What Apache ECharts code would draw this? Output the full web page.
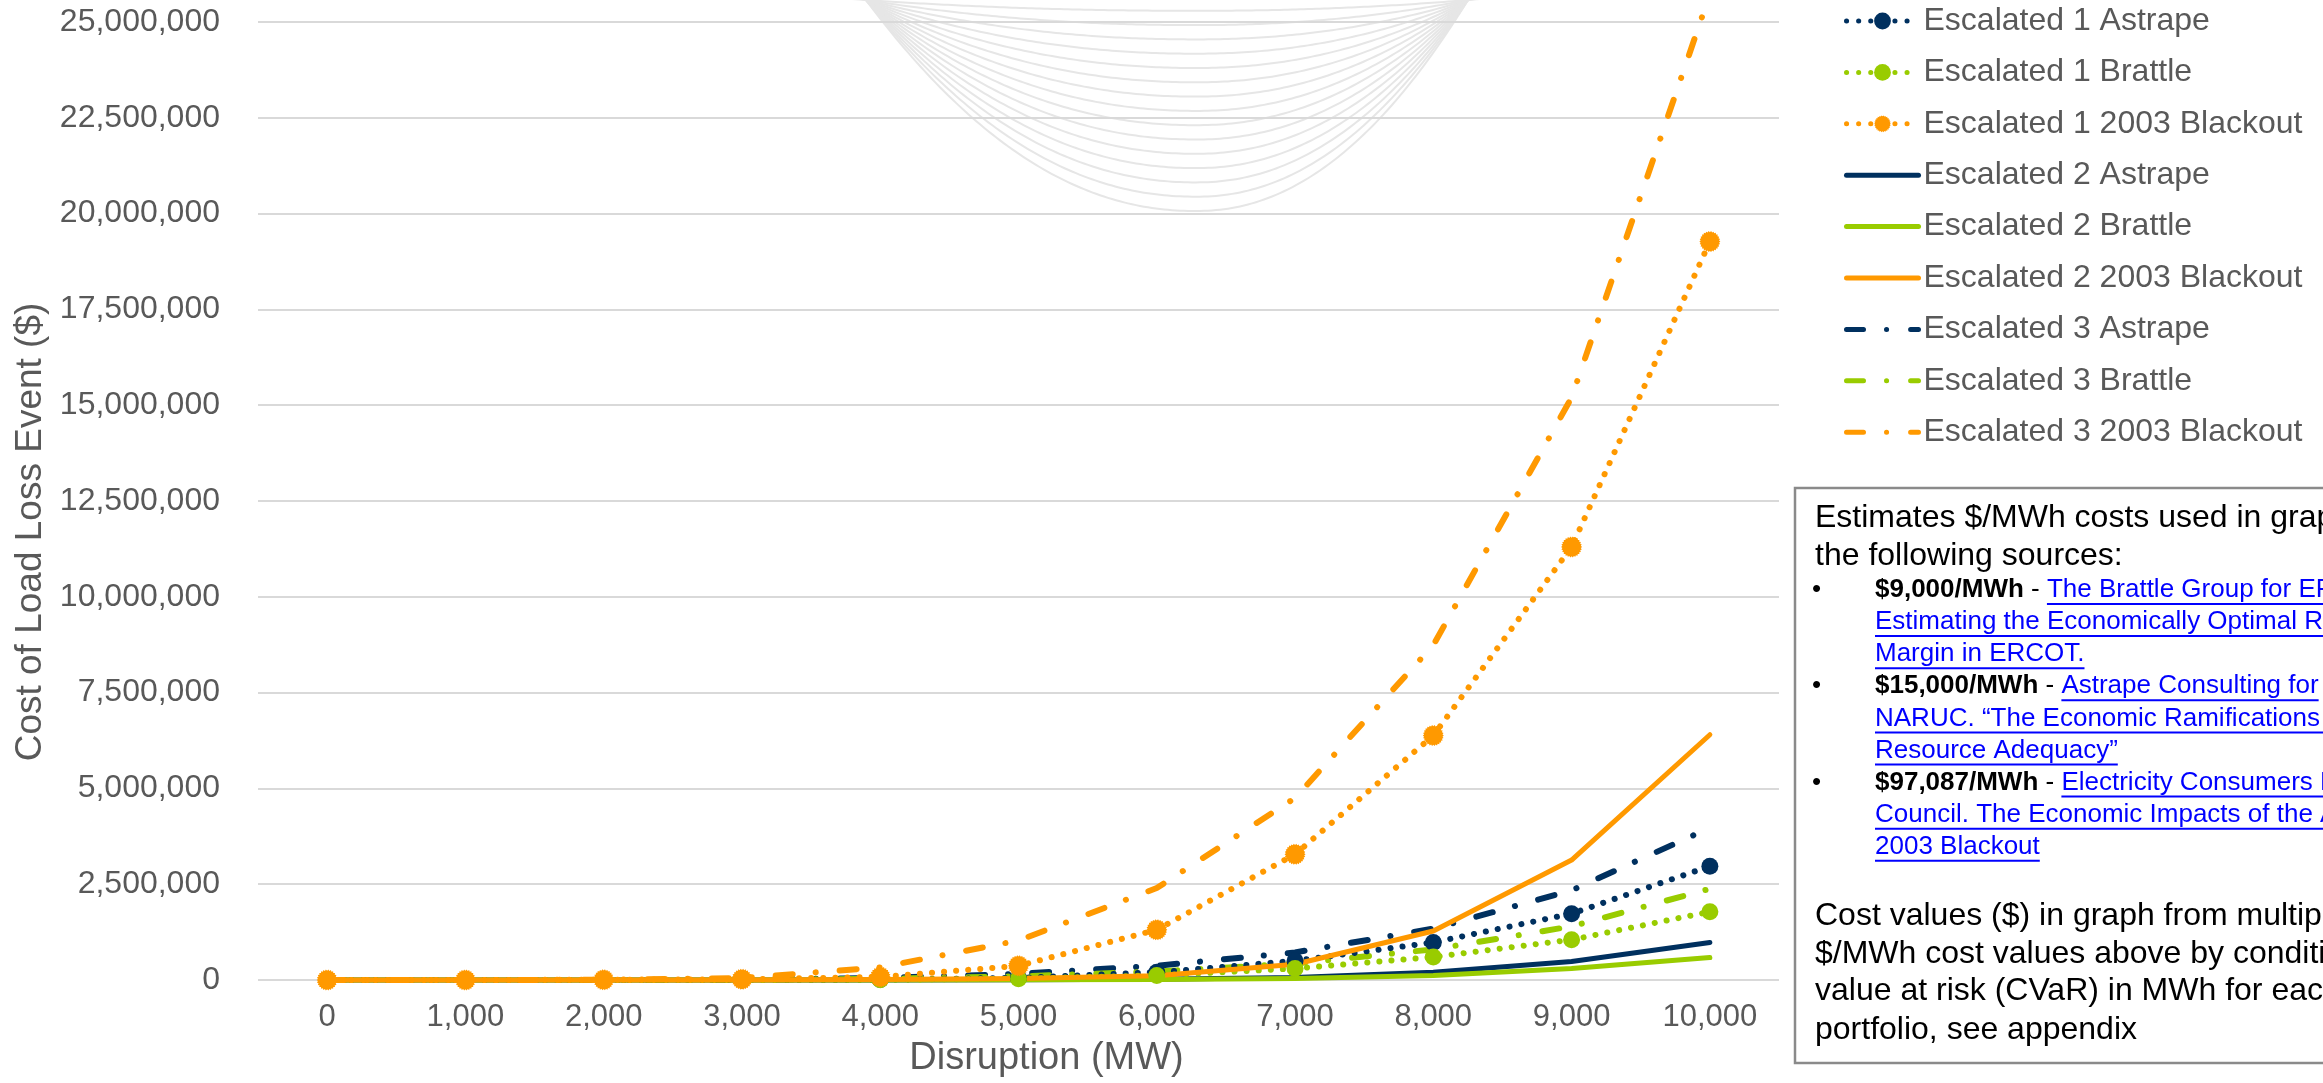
<!DOCTYPE html>
<html>
<head>
<meta charset="utf-8">
<script src="https://cdn.jsdelivr.net/npm/echarts@6/dist/echarts.min.js"></script>
<style>
html,body{margin:0;padding:0;background:#fff;}
#chart{width:2323px;height:1083px;}
</style>
</head>
<body>
<div id="chart"></div>
<script>
// ---- data ----
const categories = [0, 1000, 2000, 3000, 4000, 5000, 6000, 7000, 8000, 9000, 10000];
const seriesNames = [
  'Escalated 1 Astrape', 'Escalated 1 Brattle', 'Escalated 1 2003 Blackout',
  'Escalated 2 Astrape', 'Escalated 2 Brattle', 'Escalated 2 2003 Blackout',
  'Escalated 3 Astrape', 'Escalated 3 Brattle', 'Escalated 3 2003 Blackout'
];
const esc1Astrape  = [0, 0, 1000, 3000, 12000, 55000, 200000, 500000, 980000, 1730000, 2970000];
const esc1Brattle  = [0, 0, 600, 1800, 7000, 33000, 120000, 300000, 600000, 1050000, 1780000];
const esc1Blackout = [0, 0, 6000, 20000, 80000, 370000, 1310000, 3280000, 6380000, 11300000, 19270000];
const esc2Astrape  = [0, 0, 0, 500, 2000, 6000, 17000, 63000, 200000, 485000, 980000];
const esc2Brattle  = [0, 0, 0, 300, 1200, 3600, 10000, 38000, 120000, 300000, 585000];
const esc2Blackout = [0, 0, 0, 3000, 12000, 40000, 110000, 410000, 1280000, 3130000, 6400000];
const esc3Astrape  = [0, 0, 1000, 8000, 50000, 160000, 370000, 720000, 1340000, 2340000, 3970000];
const esc3Brattle  = [0, 0, 600, 5000, 30000, 95000, 220000, 430000, 800000, 1400000, 2380000];
const esc3Blackout = [0, 0, 6000, 50000, 330000, 1030000, 2400000, 4750000, 8740000, 15200000, 25730000];
const yMin = 0, yMax = 25000000, yInterval = 2500000;
const xAxisTitle = 'Disruption (MW)';
const yAxisTitle = 'Cost of Load Loss Event ($)';

// text box content
const introLines = ['Estimates $/MWh costs used in graph are from', 'the following sources:'];
const sources = [
  { cost: '$9,000/MWh', lines: ['The Brattle Group for ERCOT.', 'Estimating the Economically Optimal Reserve', 'Margin in ERCOT.'] },
  { cost: '$15,000/MWh', lines: ['Astrape Consulting for', 'NARUC. \u201CThe Economic Ramifications of', 'Resource Adequacy\u201D'] },
  { cost: '$97,087/MWh', lines: ['Electricity Consumers Resource', 'Council. The Economic Impacts of the August', '2003 Blackout'] }
];
const outroLines = ['Cost values ($) in graph from multiplying', '$/MWh cost values above by conditional', 'value at risk (CVaR) in MWh for each', 'portfolio, see appendix'];

// ---- styling ----
const FONT = "'Liberation Sans', Arial, sans-serif";
const NAVY = '#00305F', GREEN = '#99CC00', ORANGE = '#FF9900';
const GREY_TXT = '#595959';

function spiky(n, rOut, rIn) {
  let d = '';
  for (let i = 0; i < 2 * n; i++) {
    const a = i * Math.PI / n;
    const r = i % 2 ? rIn : rOut;
    d += (i ? 'L' : 'M') + (r * Math.cos(a)).toFixed(3) + ',' + (r * Math.sin(a)).toFixed(3);
  }
  return 'path://' + d + 'Z';
}
const SPIKY = spiky(26, 10, 8.8);

function mk(name, data, color, kind, symbol) {
  const s = {
    name, type: 'line', data, clip: false, animation: false,
    emphasis: { disabled: true }, itemStyle: { color }
  };
  if (kind === 'dot') {
    s.lineStyle = { color, width: 6, type: [0.1, 12], cap: 'round' };
    s.symbol = symbol; s.symbolSize = symbol === 'circle' ? 17 : 21; s.showSymbol = true;
  } else if (kind === 'solid') {
    s.lineStyle = { color, width: 5, cap: 'round', join: 'round' };
    s.symbol = 'none';
  } else {
    s.lineStyle = { color, width: 6, type: [17, 23, 0.1, 24], cap: 'round' };
    s.symbol = 'none';
  }
  return s;
}

const series = [
  mk(seriesNames[6], esc3Astrape, NAVY, 'dashdot'),
  mk(seriesNames[7], esc3Brattle, GREEN, 'dashdot'),
  mk(seriesNames[3], esc2Astrape, NAVY, 'solid'),
  mk(seriesNames[4], esc2Brattle, GREEN, 'solid'),
  mk(seriesNames[0], esc1Astrape, NAVY, 'dot', 'circle'),
  mk(seriesNames[1], esc1Brattle, GREEN, 'dot', 'circle'),
  mk(seriesNames[8], esc3Blackout, ORANGE, 'dashdot'),
  mk(seriesNames[5], esc2Blackout, ORANGE, 'solid'),
  mk(seriesNames[2], esc1Blackout, ORANGE, 'dot', SPIKY)
];

// legend entries: Escalated 2 / 3 have no marker in the key
const legendData = seriesNames.map((n, i) => i < 3 ? { name: n } : { name: n, itemStyle: { opacity: 0 } });

// ---- decorative background swooshes (template watermark) ----
const deco = [];
for (let k = 0; k < 15; k++) {
  const yb = 211 - 14.3 * k;
  const pts = [];
  for (let x = 820; x <= 1500; x += 4) {
    const dx = x - 1196;
    const W = dx < 0 ? 330 : 272;
    const u = Math.abs(dx) / W;
    pts.push([x, yb * (1 - Math.pow(u, 2.1))]);
  }
  deco.push({ type: 'polyline', silent: true, z: -5, shape: { points: pts }, style: { stroke: '#e6e6e6', lineWidth: 2, fill: null } });
}

// ---- text box ----
const ctx = document.createElement('canvas').getContext('2d');
function tw(text, size, weight) { ctx.font = (weight || 'normal') + ' ' + size + 'px ' + FONT; return ctx.measureText(text).width; }
const box = [];
const BX = 1795, BY = 488;
box.push({ type: 'rect', z: 50, shape: { x: BX, y: BY, width: 700, height: 575 }, style: { fill: '#fff', stroke: '#8a8a8a', lineWidth: 2.5 } });
const introY = [518, 556];
introLines.forEach((t, i) => box.push({ type: 'text', z: 51, x: 1815, y: introY[i], style: { text: t, fontSize: 32, fontFamily: FONT, fill: '#000', verticalAlign: 'middle' } }));
let ly = 590;
sources.forEach(src => {
  box.push({ type: 'text', z: 51, x: 1812, y: ly, style: { text: '\u2022', fontSize: 26, fontFamily: FONT, fill: '#000', verticalAlign: 'middle' } });
  src.lines.forEach((t, i) => {
    let x0 = 1875;
    if (i === 0) {
      box.push({ type: 'text', z: 51, x: x0, y: ly, style: {
        text: '{b|' + src.cost + '}{n| - }{l|' + t + '}', fontSize: 26, fontFamily: FONT, verticalAlign: 'middle',
        rich: { b: { fontWeight: 'bold', fill: '#000', fontSize: 26, fontFamily: FONT }, n: { fill: '#000', fontSize: 26, fontFamily: FONT }, l: { fill: '#0000FF', fontSize: 26, fontFamily: FONT } } } });
      x0 += tw(src.cost, 26, 'bold') + tw(' - ', 26);
    } else {
      box.push({ type: 'text', z: 51, x: x0, y: ly, style: { text: t, fontSize: 26, fontFamily: FONT, fill: '#0000FF', verticalAlign: 'middle' } });
    }
    const w = tw(t, 26);
    box.push({ type: 'line', z: 51, shape: { x1: x0, y1: ly + 14, x2: x0 + w, y2: ly + 14 }, style: { stroke: '#0000FF', lineWidth: 2 } });
    ly += 32.1;
  });
});
const outroY = [916, 954, 991.5, 1030];
outroLines.forEach((t, i) => box.push({ type: 'text', z: 51, x: 1815, y: outroY[i], style: { text: t, fontSize: 32, fontFamily: FONT, fill: '#000', verticalAlign: 'middle' } }));

const chart = echarts.init(document.getElementById('chart'), null, { renderer: 'canvas' });
chart.setOption({
  animation: false,
  backgroundColor: '#fff',
  textStyle: { fontFamily: FONT },
  grid: { left: 258, right: 544, top: 22, bottom: 100.5, containLabel: false },
  legend: {
    orient: 'vertical', left: 1839, top: -1,
    itemWidth: 72, itemHeight: 21, itemGap: 17.4,
    lineStyle: { width: 5 },
    textStyle: { fontSize: 32, color: GREY_TXT, fontFamily: FONT, lineHeight: 34 },
    data: legendData, selectedMode: false
  },
  xAxis: {
    type: 'category', data: categories, boundaryGap: true,
    axisLine: { show: false }, axisTick: { show: false },
    axisLabel: { fontSize: 31, color: GREY_TXT, margin: 22, formatter: v => Number(v).toLocaleString('en-US') },
    name: xAxisTitle, nameLocation: 'middle', nameGap: 60,
    nameTextStyle: { fontSize: 38, color: GREY_TXT, padding: [0, 0, 0, 56] }
  },
  yAxis: {
    type: 'value', min: yMin, max: yMax, interval: yInterval,
    axisLine: { show: false }, axisTick: { show: false },
    splitLine: { lineStyle: { color: '#d9d9d9', width: 2 } },
    axisLabel: { fontSize: 32, color: GREY_TXT, margin: 38, formatter: v => v.toLocaleString('en-US') },
    name: yAxisTitle, nameLocation: 'middle', nameGap: 206,
    nameTextStyle: { fontSize: 37, color: GREY_TXT, padding: [0, 62, 0, 0] }
  },
  graphic: { elements: deco.concat(box) },
  series
});
</script>
</body>
</html>
